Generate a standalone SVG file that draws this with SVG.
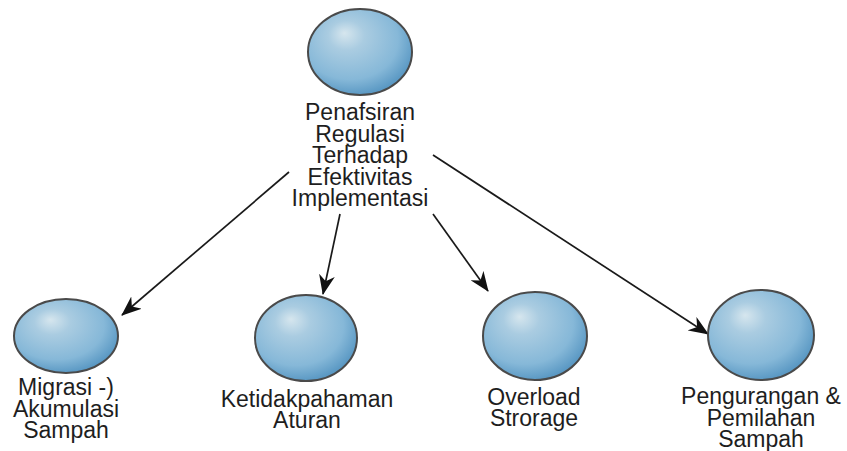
<svg xmlns="http://www.w3.org/2000/svg" width="847" height="451" viewBox="0 0 847 451">
<defs>
<radialGradient id="ball" cx="0.42" cy="0.38" r="0.62" fx="0.35" fy="0.28">
<stop offset="0" stop-color="#d6e6ee"/>
<stop offset="0.28" stop-color="#aacce1"/>
<stop offset="0.75" stop-color="#86b8d8"/>
<stop offset="1" stop-color="#5b99c4"/>
</radialGradient>
<marker id="arr" viewBox="0 0 20 16" refX="19" refY="8" markerWidth="20" markerHeight="16" orient="auto" markerUnits="userSpaceOnUse">
<path d="M0,0 L20,8 L0,16 L6,8 Z" fill="#111"/>
</marker>
<style>
.ball{fill:url(#ball);stroke:#4a4a4a;stroke-width:2}
.lbl{font-family:"Liberation Sans",Arial,sans-serif;font-size:23px;fill:#1e1e1e;text-anchor:middle}
.edge{stroke:#1a1a1a;stroke-width:1.7;fill:none;marker-end:url(#arr)}
</style>
</defs>
<rect width="847" height="451" fill="#fff"/>
<g id="connectors">
<line class="edge" x1="289" y1="172" x2="122" y2="315"/>
<line class="edge" x1="340" y1="214" x2="323" y2="294"/>
<line class="edge" x1="433" y1="214" x2="488" y2="291"/>
<line class="edge" x1="433" y1="155" x2="708" y2="334"/>
</g>
<g id="n0">
<ellipse class="ball" cx="360" cy="52" rx="52" ry="43"/>
<text class="lbl"><tspan x="360" y="120">Penafsiran</tspan><tspan x="360" y="141.5">Regulasi</tspan><tspan x="360" y="163">Terhadap</tspan><tspan x="360" y="184.5">Efektivitas</tspan><tspan x="360" y="206">Implementasi</tspan></text>
</g>
<g id="n1">
<ellipse class="ball" cx="66" cy="336" rx="52" ry="37"/>
<text class="lbl"><tspan x="66" y="395">Migrasi -)</tspan><tspan x="66" y="416.5">Akumulasi</tspan><tspan x="66" y="438">Sampah</tspan></text>
</g>
<g id="n2">
<ellipse class="ball" cx="306" cy="338" rx="51" ry="43"/>
<text class="lbl"><tspan x="307" y="407">Ketidakpahaman</tspan><tspan x="307" y="428">Aturan</tspan></text>
</g>
<g id="n3">
<ellipse class="ball" cx="535" cy="336" rx="52" ry="44"/>
<text class="lbl"><tspan x="534" y="405">Overload</tspan><tspan x="534" y="426">Strorage</tspan></text>
</g>
<g id="n4">
<ellipse class="ball" cx="761" cy="335" rx="53" ry="45"/>
<text class="lbl"><tspan x="761" y="404">Pengurangan &amp;</tspan><tspan x="761" y="425.5">Pemilahan</tspan><tspan x="761" y="447">Sampah</tspan></text>
</g>
</svg>
